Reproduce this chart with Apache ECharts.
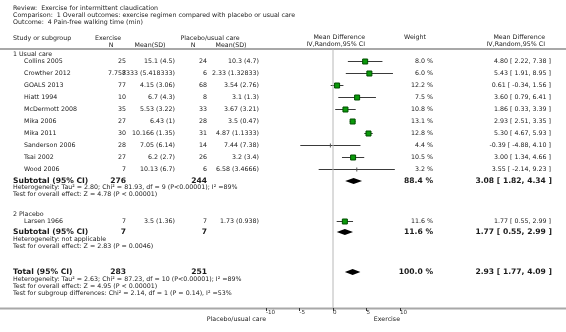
<!DOCTYPE html>
<html><head><meta charset="utf-8">
<script src="https://cdn.jsdelivr.net/npm/echarts@6/dist/echarts.min.js"></script>
<style>html,body{margin:0;padding:0;background:#fff}#c{width:566px;height:332px}</style>
</head><body><div id="c"></div>
<script>
// ---- data ----
const studies1 = ['Collins 2005','Crowther 2012','GOALS 2013','Hiatt 1994','McDermott 2008','Mika 2006','Mika 2011','Sanderson 2006','Tsai 2002','Wood 2006'];
const expN1 = [25, 7, 77, 10, 35, 27, 30, 28, 27, 7];
const expMeanSD1 = ['15.1 (4.5)','7.758333 (5.418333)','4.15 (3.06)','6.7 (4.3)','5.53 (3.22)','6.43 (1)','10.166 (1.35)','7.05 (6.14)','6.2 (2.7)','10.13 (6.7)'];
const ctlN1 = [24, 6, 68, 8, 33, 28, 31, 14, 26, 6];
const ctlMeanSD1 = ['10.3 (4.7)','2.33 (1.32833)','3.54 (2.76)','3.1 (1.3)','3.67 (3.21)','3.5 (0.47)','4.87 (1.1333)','7.44 (7.38)','3.2 (3.4)','6.58 (3.4666)'];
const md1 = [4.80, 5.43, 0.61, 3.60, 1.86, 2.93, 5.30, -0.39, 3.00, 3.55];
const lo1 = [2.22, 1.91, -0.34, 0.79, 0.33, 2.51, 4.67, -4.88, 1.34, -2.14];
const hi1 = [7.38, 8.95, 1.56, 6.41, 3.39, 3.35, 5.93, 4.10, 4.66, 9.23];
const w1 = [8.0, 6.0, 12.2, 7.5, 10.8, 13.1, 12.8, 4.4, 10.5, 3.2];

const studies2 = ['Larsen 1966'];
const expN2 = [7];
const expMeanSD2 = ['3.5 (1.36)'];
const ctlN2 = [7];
const ctlMeanSD2 = ['1.73 (0.938)'];
const md2 = [1.77];
const lo2 = [0.55];
const hi2 = [2.99];
const w2 = [11.6];

const summaryNames = ['Subtotal (95% CI)','Subtotal (95% CI)','Total (95% CI)'];
const summaryExpN = [276, 7, 283];
const summaryCtlN = [244, 7, 251];
const summaryMD = [3.08, 1.77, 2.93];
const summaryLo = [1.82, 0.55, 1.77];
const summaryHi = [4.34, 2.99, 4.09];
const summaryW = [88.4, 11.6, 100.0];

const xTicks = [-10, -5, 0, 5, 10];

const headerLines = ['Review:  Exercise for intermittent claudication','Comparison:  1 Overall outcomes: exercise regimen compared with placebo or usual care','Outcome:  4 Pain-free walking time (min)'];
const subgroupNames = ['1 Usual care','2 Placebo'];
const het1 = ['Heterogeneity: Tau\u00b2 = 2.80; Chi\u00b2 = 81.93, df = 9 (P<0.00001); I\u00b2 =89%','Test for overall effect: Z = 4.78 (P < 0.00001)'];
const het2 = ['Heterogeneity: not applicable','Test for overall effect: Z = 2.83 (P = 0.0046)'];
const hetT = ['Heterogeneity: Tau\u00b2 = 2.63; Chi\u00b2 = 87.23, df = 10 (P<0.00001); I\u00b2 =89%','Test for overall effect: Z = 4.95 (P < 0.00001)','Test for subgroup differences: Chi\u00b2 = 2.14, df = 1 (P = 0.14), I\u00b2 =53%'];
const favourLeft = 'Placebo/usual care';
const favourRight = 'Exercise';

// ---- layout ----
const FF = '"DejaVu Sans", Verdana, sans-serif';
const small = '6.3px ' + FF;
const bold = 'bold 7.6px ' + FF;
const tiny = '5.6px ' + FF;
const TXT = '#1a1a1a';
const g = [];
function T(x, y, s, font, align) {
  g.push({type:'text', x:x, y:y, silent:true, style:{text:String(s), font:font||small, fill:TXT, align:align||'left', verticalAlign:'middle'}});
}
function fmt(v){return v.toFixed(2);}
function ci(m,l,h){return fmt(m)+' [ '+fmt(l)+', '+fmt(h)+' ]';}

headerLines.forEach((s,i)=>T(13, 8+i*7, s));
T(13, 38, 'Study or subgroup');
T(108, 38, 'Exercise', small, 'center');
T(111, 45, 'N', small, 'center');
T(150, 45, 'Mean(SD)', small, 'center');
T(210, 38, 'Placebo/usual care', small, 'center');
T(193, 45, 'N', small, 'center');
T(231, 45, 'Mean(SD)', small, 'center');
T(365, 37, 'Mean Difference', small, 'right');
T(365, 44, 'IV,Random,95% CI', small, 'right');
T(415, 37, 'Weight', small, 'center');
T(545, 37, 'Mean Difference', small, 'right');
T(545, 44, 'IV,Random,95% CI', small, 'right');
g.push({type:'line', silent:true, shape:{x1:0,y1:49,x2:566,y2:49}, style:{stroke:'#a8a8a8', lineWidth:2}});
g.push({type:'line', silent:true, shape:{x1:0,y1:308.5,x2:566,y2:308.5}, style:{stroke:'#a8a8a8', lineWidth:2}});

const studyPts = [];
function studyRows(names, eN, eM, cN, cM, md, lo, hi, w, y0) {
  names.forEach((nm,i)=>{
    const y = y0 + i*12;
    T(24, y, nm);
    T(126, y, eN[i], small, 'right');
    T(175, y, eM[i], small, 'right');
    T(207, y, cN[i], small, 'right');
    T(259, y, cM[i], small, 'right');
    T(433, y, w[i].toFixed(1)+' %', small, 'right');
    T(551, y, ci(md[i],lo[i],hi[i]), small, 'right');
    studyPts.push([md[i], lo[i], hi[i], y, w[i]]);
  });
}
T(13, 54, subgroupNames[0]);
studyRows(studies1, expN1, expMeanSD1, ctlN1, ctlMeanSD1, md1, lo1, hi1, w1, 61);
T(13, 214, subgroupNames[1]);
studyRows(studies2, expN2, expMeanSD2, ctlN2, ctlMeanSD2, md2, lo2, hi2, w2, 221);

const sumY = [181, 232, 272];
const diamonds = [];
summaryNames.forEach((nm,i)=>{
  const y = sumY[i];
  T(13, y, nm, bold);
  T(126, y, summaryExpN[i], bold, 'right');
  T(207, y, summaryCtlN[i], bold, 'right');
  T(433, y, summaryW[i].toFixed(1)+' %', bold, 'right');
  T(552, y, ci(summaryMD[i],summaryLo[i],summaryHi[i]), bold, 'right');
  diamonds.push([summaryMD[i], summaryLo[i], summaryHi[i], y]);
});
het1.forEach((s,i)=>T(13, 187.5+i*7, s));
het2.forEach((s,i)=>T(13, 239.5+i*7, s));
hetT.forEach((s,i)=>T(13, 279+i*7, s));
T(266, 319, favourLeft, small, 'right');
T(400, 319, favourRight, small, 'right');

const chart = echarts.init(document.getElementById('c'), null, {renderer:'canvas'});
chart.setOption({
  animation:false,
  grid:{left:266, width:134, top:0, bottom:24},
  xAxis:{type:'value', min:-10, max:10, interval:5, position:'bottom',
    axisLine:{show:false, onZero:false},
    axisTick:{show:true, inside:false, length:3, lineStyle:{color:'#333', width:1}},
    axisLabel:{show:true, fontSize:5.6, fontFamily:FF, color:'#333', margin:2, align:'left',
      formatter:v=>xTicks.indexOf(v)>=0?String(v):''},
    splitLine:{show:false}},
  yAxis:{type:'value', min:0, max:308, inverse:true, show:false},
  graphic:g,
  series:[
    {type:'line', data:[[0,49],[0,308]], symbol:'none', silent:true, lineStyle:{color:'#b8b8b8', width:1}},
    {type:'custom', silent:true, data:studyPts, renderItem:function(params, api){
      const y = api.value(3);
      const pe = api.coord([api.value(0), y]);
      const pl = api.coord([api.value(1), y]);
      const ph = api.coord([api.value(2), y]);
      const w = api.value(4);
      const yy = Math.round(pe[1])+0.5;
      const ch = [{type:'line', shape:{x1:pl[0],y1:yy,x2:ph[0],y2:yy}, style:{stroke:'#3a3a3a', lineWidth:1}}];
      if (w >= 5) {
        ch.push({type:'rect', shape:{x:pe[0]-2.5,y:yy-2.5,width:5,height:5}, style:{fill:'#0a9a0a', stroke:'#004d00', lineWidth:1}});
      } else {
        ch.push({type:'rect', shape:{x:pe[0]-0.5,y:yy-2,width:1,height:4}, style:{fill:'#555'}});
      }
      return {type:'group', children:ch};
    }},
    {type:'custom', silent:true, data:diamonds, renderItem:function(params, api){
      const y = api.value(3);
      const pe = api.coord([api.value(0), y]);
      const pl = api.coord([api.value(1), y]);
      const ph = api.coord([api.value(2), y]);
      return {type:'polygon', shape:{points:[[pl[0],pe[1]],[pe[0],pe[1]-3],[ph[0],pe[1]],[pe[0],pe[1]+3]]}, style:{fill:'#000'}};
    }}
  ]
});
</script></body></html>
